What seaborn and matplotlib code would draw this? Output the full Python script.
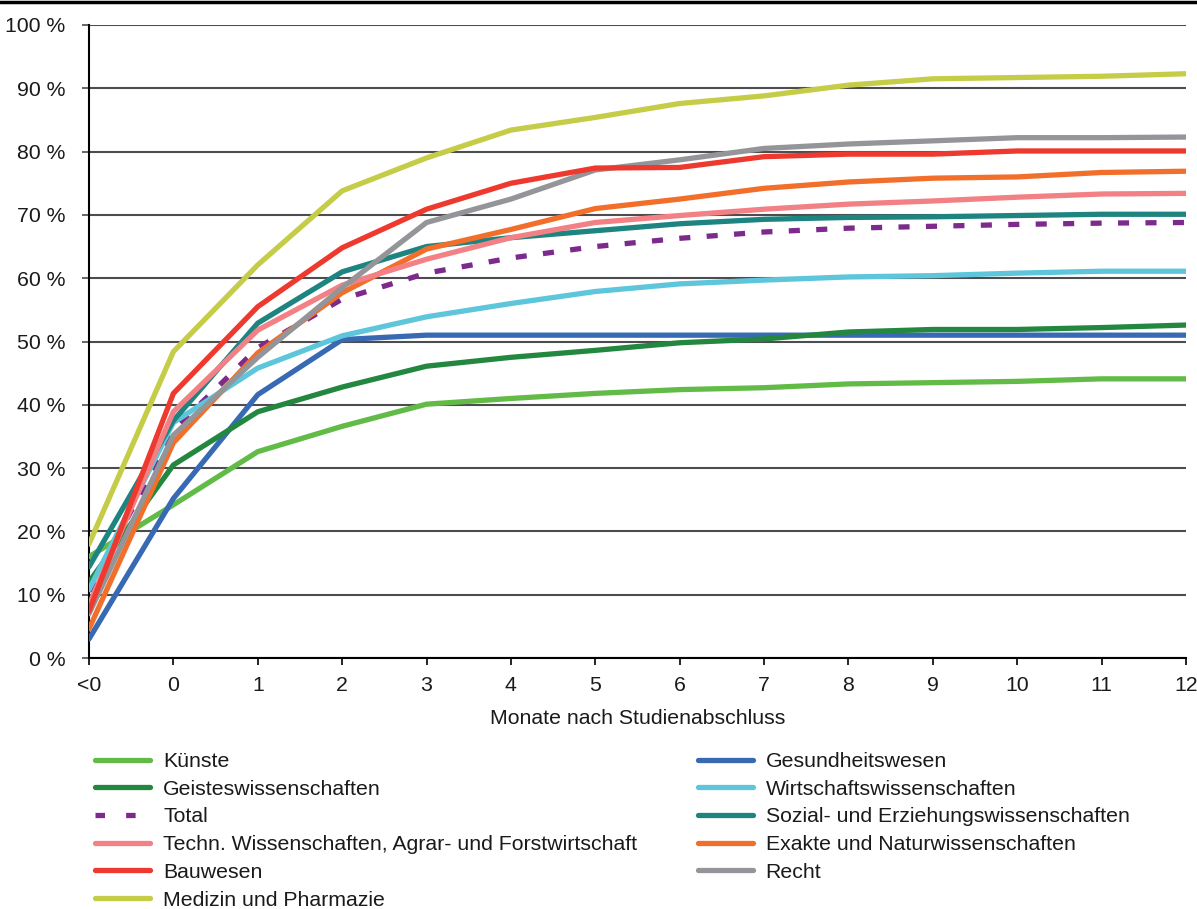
import matplotlib
matplotlib.use("Agg")
import matplotlib.pyplot as plt
from matplotlib.lines import Line2D
import seaborn as sns
import pandas as pd

# x categories (months after graduation)
months = ["<0", "0", "1", "2", "3", "4", "5", "6", "7", "8", "9", "10", "11", "12"]

kuenste = [16.0, 24.2, 32.6, 36.6, 40.1, 41.0, 41.8, 42.4, 42.7, 43.3, 43.5, 43.7, 44.1, 44.1]
geistes = [12.0, 30.5, 38.9, 42.8, 46.1, 47.5, 48.6, 49.8, 50.4, 51.5, 51.9, 51.9, 52.2, 52.6]
total = [10.5, 36.0, 49.0, 56.7, 60.8, 63.2, 65.0, 66.3, 67.3, 67.9, 68.2, 68.5, 68.7, 68.8]
techn = [8.4, 38.9, 51.8, 58.9, 63.0, 66.4, 68.8, 69.9, 70.9, 71.7, 72.2, 72.8, 73.3, 73.4]
bauwesen = [7.4, 41.8, 55.5, 64.8, 70.9, 75.0, 77.4, 77.5, 79.2, 79.6, 79.6, 80.1, 80.1, 80.1]
medizin = [18.0, 48.4, 62.1, 73.8, 79.0, 83.4, 85.4, 87.6, 88.8, 90.5, 91.5, 91.7, 91.9, 92.3]
gesundheit = [3.0, 25.2, 41.6, 50.3, 51.0, 51.0, 51.0, 51.0, 51.0, 51.0, 51.0, 51.0, 51.0, 51.0]
wirtschaft = [10.8, 37.2, 45.8, 50.9, 53.9, 56.0, 57.9, 59.1, 59.7, 60.2, 60.4, 60.8, 61.1, 61.1]
sozial = [14.4, 37.5, 52.9, 61.0, 65.0, 66.4, 67.5, 68.6, 69.3, 69.6, 69.7, 69.9, 70.1, 70.1]
exakte = [4.6, 34.0, 48.2, 57.7, 64.6, 67.7, 71.0, 72.5, 74.2, 75.2, 75.8, 76.0, 76.7, 76.9]
recht = [7.0, 35.2, 47.5, 58.5, 68.8, 72.5, 77.1, 78.7, 80.5, 81.2, 81.7, 82.2, 82.2, 82.3]

legend_order = [
    "Künste", "Geisteswissenschaften", "Total",
    "Techn. Wissenschaften, Agrar- und Forstwirtschaft", "Bauwesen",
    "Medizin und Pharmazie", "Gesundheitswesen", "Wirtschaftswissenschaften",
    "Sozial- und Erziehungswissenschaften", "Exakte und Naturwissenschaften", "Recht",
]
values = {
    "Künste": kuenste,
    "Geisteswissenschaften": geistes,
    "Total": total,
    "Techn. Wissenschaften, Agrar- und Forstwirtschaft": techn,
    "Bauwesen": bauwesen,
    "Medizin und Pharmazie": medizin,
    "Gesundheitswesen": gesundheit,
    "Wirtschaftswissenschaften": wirtschaft,
    "Sozial- und Erziehungswissenschaften": sozial,
    "Exakte und Naturwissenschaften": exakte,
    "Recht": recht,
}
colors = {
    "Künste": "#63bb47",
    "Geisteswissenschaften": "#23873f",
    "Total": "#7d2a8d",
    "Techn. Wissenschaften, Agrar- und Forstwirtschaft": "#f28084",
    "Bauwesen": "#ee3a2e",
    "Medizin und Pharmazie": "#c5cd48",
    "Gesundheitswesen": "#386ab4",
    "Wirtschaftswissenschaften": "#5ec6db",
    "Sozial- und Erziehungswissenschaften": "#1d8480",
    "Exakte und Naturwissenschaften": "#f26f2b",
    "Recht": "#939598",
}
# drawing order (bottom to top)
draw_order = [
    "Total", "Künste", "Gesundheitswesen", "Geisteswissenschaften",
    "Wirtschaftswissenschaften", "Sozial- und Erziehungswissenschaften",
    "Exakte und Naturwissenschaften", "Techn. Wissenschaften, Agrar- und Forstwirtschaft",
    "Recht", "Bauwesen", "Medizin und Pharmazie",
]

rows = []
for name in legend_order:
    for i, v in enumerate(values[name]):
        rows.append({"pos": i, "Monat": months[i], "Anteil": v, "Fach": name})
df = pd.DataFrame(rows)

sns.set_theme(style="white")
plt.rcParams["font.family"] = ["Liberation Sans", "DejaVu Sans"]
fs = 15.3

fig = plt.figure(figsize=(11.97, 9.09), dpi=100)
ax = fig.add_axes([89 / 1197, 1 - 658 / 909, (1186 - 89) / 1197, (658 - 25) / 909])

lw = 3.8
for z, name in enumerate(draw_order):
    sub = df[df["Fach"] == name]
    sns.lineplot(data=sub, x="pos", y="Anteil", color=colors[name], lw=lw,
                 ax=ax, zorder=3 + z, legend=False)
    line = ax.lines[-1]
    line.set_solid_capstyle("round")
    if name == "Total":
        line.set_dashes((2.1, 3.1))
        line.set_dash_capstyle("butt")

ax.set_xlim(0, len(months) - 1)
ax.set_ylim(0, 100)
ax.set_xticks(range(len(months)))
ax.set_xticklabels(months)
yt = list(range(0, 101, 10))
ax.set_yticks(yt)
ax.set_yticklabels([f"{v} %" for v in yt])
ax.yaxis.grid(True, color="#4d4d4f", lw=1.5, zorder=1)
ax.xaxis.grid(False)
for s in ["top", "right"]:
    ax.spines[s].set_visible(False)
ax.spines["left"].set_color("black")
ax.spines["left"].set_linewidth(1.5)
ax.spines["bottom"].set_color("black")
ax.spines["bottom"].set_linewidth(1.5)
ax.tick_params(axis="x", direction="out", length=5, width=1.2, color="black",
               pad=8, labelsize=fs, labelcolor="#1a1a1a", bottom=True)
ax.tick_params(axis="y", direction="out", length=5, width=1.2, color="#4d4d4f",
               pad=12, labelsize=fs, labelcolor="#1a1a1a", left=True)
ax.set_xlabel("Monate nach Studienabschluss", fontsize=fs, color="#1a1a1a", labelpad=10)
ax.set_ylabel("")

# black rule along the top of the figure
fig.add_artist(Line2D([0, 1], [0.998, 0.998], color="black", lw=2.5,
                      transform=fig.transFigure))

handles = []
for name in legend_order:
    if name == "Total":
        h = Line2D([], [], color=colors[name], lw=lw, dashes=(1.8, 4.0),
                   dash_capstyle="butt")
    else:
        h = Line2D([], [], color=colors[name], lw=lw, solid_capstyle="round")
    handles.append(h)

fig.legend(handles, legend_order, loc="upper left",
           bbox_to_anchor=(95 / 1197, 1 - 752 / 909), ncol=2, frameon=False,
           borderpad=0, borderaxespad=0, handlelength=2.6, handletextpad=0.6,
           columnspacing=2.85, labelspacing=0.41, fontsize=fs,
           labelcolor="#1a1a1a")

fig.savefig("out.png", dpi=100)
